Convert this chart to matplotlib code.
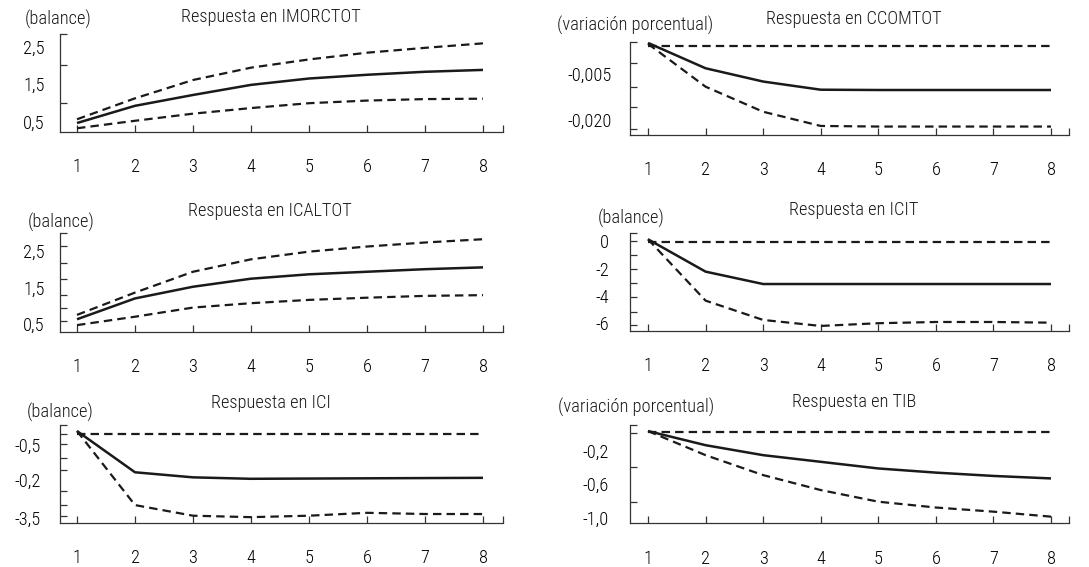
import matplotlib
matplotlib.use("Agg")
import matplotlib.pyplot as plt
from matplotlib import font_manager

# Horizonte de la respuesta (trimestres)
periodos = [1, 2, 3, 4, 5, 6, 7, 8]

titulos = ["Respuesta en IMORCTOT", "Respuesta en CCOMTOT",
           "Respuesta en ICALTOT", "Respuesta en ICIT",
           "Respuesta en ICI", "Respuesta en TIB"]
unidades = ["(balance)", "(variación porcentual)",
            "(balance)", "(balance)",
            "(balance)", "(variación porcentual)"]

# Respuesta central y bandas de confianza
imorctot = [0.46, 0.92, 1.21, 1.48, 1.65, 1.75, 1.83, 1.88]
imorctot_sup = [0.56, 1.12, 1.61, 1.94, 2.16, 2.34, 2.47, 2.59]
imorctot_inf = [0.32, 0.52, 0.71, 0.86, 0.99, 1.06, 1.10, 1.11]

ccomtot = [0.0053, -0.0031, -0.0075, -0.0102, -0.0103, -0.0103, -0.0103, -0.0103]
ccomtot_sup = [0.0044, 0.0044, 0.0044, 0.0044, 0.0044, 0.0044, 0.0044, 0.0044]
ccomtot_inf = [0.0050, -0.0092, -0.0175, -0.0222, -0.0224, -0.0224, -0.0224, -0.0224]

icaltot = [0.63, 1.20, 1.52, 1.74, 1.86, 1.93, 2.00, 2.05]
icaltot_sup = [0.75, 1.36, 1.93, 2.27, 2.48, 2.62, 2.73, 2.82]
icaltot_inf = [0.47, 0.70, 0.95, 1.07, 1.16, 1.22, 1.27, 1.29]

icit = [0.16, -2.22, -3.13, -3.13, -3.13, -3.13, -3.13, -3.13]
icit_sup = [-0.04, -0.04, -0.04, -0.04, -0.04, -0.04, -0.04, -0.04]
icit_inf = [0.16, -4.35, -5.77, -6.21, -6.01, -5.92, -5.92, -5.97]

ici = [0.08, -1.63, -1.84, -1.90, -1.89, -1.88, -1.87, -1.86]
ici_sup = [-0.04, -0.04, -0.04, -0.04, -0.04, -0.04, -0.04, -0.04]
ici_inf = [0.08, -2.99, -3.43, -3.49, -3.43, -3.31, -3.36, -3.36]

tib = [0.04, -0.13, -0.25, -0.33, -0.41, -0.46, -0.50, -0.53]
tib_sup = [0.03, 0.03, 0.03, 0.03, 0.03, 0.03, 0.03, 0.03]
tib_inf = [0.04, -0.25, -0.49, -0.67, -0.81, -0.88, -0.93, -0.99]

series = [(imorctot, imorctot_sup, imorctot_inf),
          (ccomtot, ccomtot_sup, ccomtot_inf),
          (icaltot, icaltot_sup, icaltot_inf),
          (icit, icit_sup, icit_inf),
          (ici, ici_sup, ici_inf),
          (tib, tib_sup, tib_inf)]

# Etiquetas del eje vertical (tal y como aparecen en el original)
ytick_pos = [[2.5, 1.5, 0.5],
             [-0.005, -0.020],
             [2.5, 1.5, 0.5],
             [0, -2, -4, -6],
             [-0.5, -1.95, -3.5],
             [-0.2, -0.6, -1.0]]
ytick_txt = [["2,5", "1,5", "0,5"],
             ["-0,005", "-0,020"],
             ["2,5", "1,5", "0,5"],
             ["0", "-2", "-4", "-6"],
             ["-0,5", "-0,2", "-3,5"],
             ["-0,2", "-0,6", "-1,0"]]


def pick_font():
    for fam in ["Liberation Sans Narrow", "Arial Narrow", "Roboto Condensed"]:
        try:
            font_manager.findfont(font_manager.FontProperties(family=fam),
                                  fallback_to_default=False)
            return fam, 13.2
        except ValueError:
            pass
    return "Liberation Sans", 10.8


FONT, FS = pick_font()
plt.rcParams["font.family"] = [FONT, "DejaVu Sans"]
plt.rcParams["font.weight"] = "light"

W, H = 1089, 567

# Geometría de cada panel en píxeles: espina izq., der., arriba, abajo,
# posición del tick 1 y del tick 8
layout = [
    dict(l=60, r=503, t=34, b=132, x1=77, x8=483, ylim=(0.22, 2.84),
         marks=[2.84, 2.5, 2.0, 1.5, 1.0, 0.5], pad=11,
         unit=(25, 19), title=(271, 17)),
    dict(l=630, r=1069, t=42, b=135, x1=648, x8=1051, ylim=(-0.0252, 0.0056),
         marks=[0.0056, -0.0015, -0.0094, -0.0160, -0.0233], pad=13,
         unit=(557, 25), title=(854, 19)),
    dict(l=60, r=503, t=233, b=331.7, x1=77, x8=483, ylim=(0.29, 2.99),
         marks=[2.99, 2.64, 2.17, 1.73, 1.29, 0.94, 0.58], pad=11,
         unit=(28, 222), title=(270, 211)),
    dict(l=630, r=1069, t=233, b=330.7, x1=648, x8=1051, ylim=(-6.56, 0.62),
         marks=[0.62, 0.04, -0.99, -2.02, -3.05, -4.08, -5.18, -6.14], pad=15,
         unit=(598, 218), title=(854, 210)),
    dict(l=60, r=503, t=425, b=522.7, x1=77, x8=483, ylim=(-3.72, 0.33),
         marks=[0.33, -0.06, -0.46, -1.02, -1.54, -1.95, -2.42, -2.99, -3.43],
         pad=14, unit=(27, 412), title=(271, 403)),
    dict(l=630, r=1069, t=425, b=523.3, x1=648, x8=1051, ylim=(-1.07, 0.113),
         marks=[0.107, 0.02, -0.2, -0.39, -0.6, -0.81, -1.0], pad=15,
         unit=(558, 407), title=(854, 402)),
]

INK = "#1a1a1a"
AXC = "#333333"

fig = plt.figure(figsize=(W / 100, H / 100), dpi=100)

for i, lay in enumerate(layout):
    ax = fig.add_axes([lay["l"] / W, 1 - lay["b"] / H,
                       (lay["r"] - lay["l"]) / W, (lay["b"] - lay["t"]) / H])
    unit = (lay["x8"] - lay["x1"]) / 7.0
    x0 = periodos[0] - (lay["x1"] - lay["l"]) / unit
    x1 = periodos[-1] + (lay["r"] - lay["x8"]) / unit
    ax.set_xlim(x0, x1)
    ax.set_ylim(*lay["ylim"])

    resp, sup, inf = series[i]
    ax.plot(periodos, sup, color=INK, lw=1.6, ls=(0, (3.8, 2.3)))
    ax.plot(periodos, inf, color=INK, lw=1.6, ls=(0, (3.8, 2.3)))
    ax.plot(periodos, resp, color=INK, lw=1.8, solid_capstyle="butt")

    for side in ["top", "right"]:
        ax.spines[side].set_visible(False)
    for side in ["left", "bottom"]:
        ax.spines[side].set_linewidth(0.9)
        ax.spines[side].set_color(AXC)

    # eje x: ticks hacia dentro y uno al final de la espina
    ax.set_xticks(periodos)
    ax.set_xticklabels([str(p) for p in periodos])
    ax.set_xticks([x1], minor=True)
    ax.tick_params(axis="x", which="both", direction="in", length=5,
                   width=0.9, color=AXC, pad=19, labelsize=FS)

    # eje y: marcas sin texto + textos sin marca
    ax.set_yticks(ytick_pos[i])
    ax.set_yticklabels(ytick_txt[i])
    ax.set_yticks(lay["marks"], minor=True)
    ax.tick_params(axis="y", which="minor", direction="in", length=5,
                   width=0.9, color=AXC)
    ax.tick_params(axis="y", which="major", length=0, pad=lay["pad"],
                   labelsize=FS)

    ux, uy = lay["unit"]
    fig.text(ux / W, 1 - uy / H, unidades[i], ha="left", va="center",
             fontsize=FS, color=INK)
    tx, ty = lay["title"]
    fig.text(tx / W, 1 - ty / H, titulos[i], ha="center", va="center",
             fontsize=FS, color=INK)

fig.savefig("out.png", dpi=100)
